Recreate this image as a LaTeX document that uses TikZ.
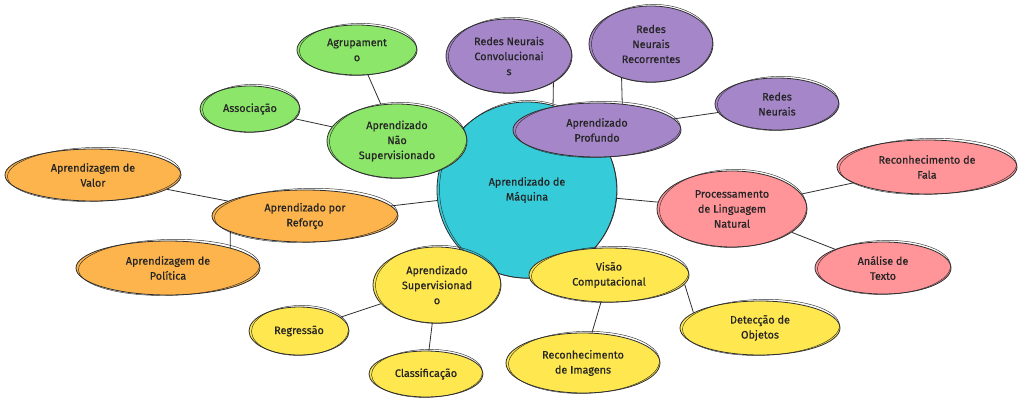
\documentclass[tikz,border=0pt]{standalone}
\usepackage{fontspec}
\setmainfont{Fira Sans}
\newfontfamily\semib{Fira Sans}[FakeBold=0.6]
\usetikzlibrary{shapes.geometric,backgrounds}
\definecolor{ink}{HTML}{2E2E2E}
\definecolor{ccyan}{HTML}{36CBD9}
\definecolor{cgreen}{HTML}{8CE66A}
\definecolor{cpurple}{HTML}{A586C9}
\definecolor{cpink}{HTML}{FF9499}
\definecolor{corange}{HTML}{FDB44C}
\definecolor{cyellow}{HTML}{FFE74F}
\newcommand\fnt{\semib\fontsize{10.8}{15}\selectfont}
\tikzset{
  bub/.style={ellipse, inner sep=0pt, align=center, font=\fnt, draw=ink, line width=0.8pt, text=ink!80!black},
  sk/.style={draw=ink, line width=0.45pt},
  link/.style={draw=ink, line width=0.8pt},
}
\newcommand\bub[7]{%
  \node[bub, fill=#6, minimum width=#4*2pt, minimum height=#5*2pt] (#1) at (#2,#3) {#7};
  \draw[sk] (#1.center) ++(1pt,0.6pt) ellipse [x radius=#4pt-1.5pt, y radius=#5pt+1pt, rotate=1.5];
}
\begin{document}
\begin{tikzpicture}[x=1pt,y=-1pt]
\useasboundingbox (0,0) rectangle (1024,404);
% central
\bub{ml}{527}{190}{90}{88}{ccyan}{Aprendizado de\\Máquina}
% unsupervised
\bub{ns}{397}{141}{70}{37}{cgreen}{Aprendizado\\Não\\Supervisionado}
\bub{agr}{357}{50}{60}{25}{cgreen}{Agrupament\\o}
\bub{ass}{250}{109}{50}{23}{cgreen}{Associação}
% deep
\bub{rnc}{509}{56}{63}{37}{cpurple}{Redes Neurais\\Convolucionai\\s}
\bub{rnr}{651}{44}{62}{38}{cpurple}{Redes\\Neurais\\Recorrentes}
\bub{ap}{597}{130}{84}{27}{cpurple}{Aprendizado\\Profundo}
\bub{rn}{777}{104}{62}{26}{cpurple}{Redes\\Neurais}
% NLP
\bub{pln}{732}{209}{75}{38}{cpink}{Processamento\\de Linguagem\\Natural}
\bub{fala}{927}{167}{90}{27}{cpink}{Reconhecimento de\\Fala}
\bub{txt}{883}{268}{68}{26}{cpink}{Análise de\\Texto}
% reinforcement
\bub{ref}{305}{216}{93}{26}{corange}{Aprendizado por\\Reforço}
\bub{val}{93}{175}{88}{26}{corange}{Aprendizagem de\\Valor}
\bub{pol}{168}{268}{92}{27}{corange}{Aprendizagem de\\Política}
% supervised
\bub{sup}{437}{285}{64}{38}{cyellow}{Aprendizado\\Supervisionad\\o}
\bub{reg}{299}{331}{50}{24}{cyellow}{Regressão}
\bub{cla}{426}{374}{57}{23}{cyellow}{Classificação}
% vision
\bub{vis}{609}{275}{80}{27}{cyellow}{Visão\\Computacional}
\bub{det}{760}{328}{80}{27}{cyellow}{Detecção de\\Objetos}
\bub{img}{583}{363}{77}{30}{cyellow}{Reconhecimento\\de Imagens}
\begin{scope}[on background layer]
  \draw[link] (agr) -- (ns);
  \draw[link] (ass) -- (ns);
  \draw[link] (ns) -- (ml);
  \draw[link] (rnc.-31) -- (ap.152);
  \draw[link] (rnr.-131) -- (ap.46);
  \draw[link] (rn) -- (ap);
  \draw[link] (ap) -- (ml);
  \draw[link] (fala) -- (pln);
  \draw[link] (pln) -- (txt);
  \draw[link] (pln) -- (ml);
  \draw[link] (val) -- (ref);
  \draw[link] (ref.-168) -- (pol.18);
  \draw[link] (ref) -- (ml);
  \draw[link] (sup) -- (reg);
  \draw[link] (sup) -- (cla);
  \draw[link] (sup) -- (ml);
  \draw[link] (vis.-7) -- (det.167);
  \draw[link] (vis) -- (img);
  \draw[link] (vis) -- (ml);
\end{scope}
\end{tikzpicture}
\end{document}
